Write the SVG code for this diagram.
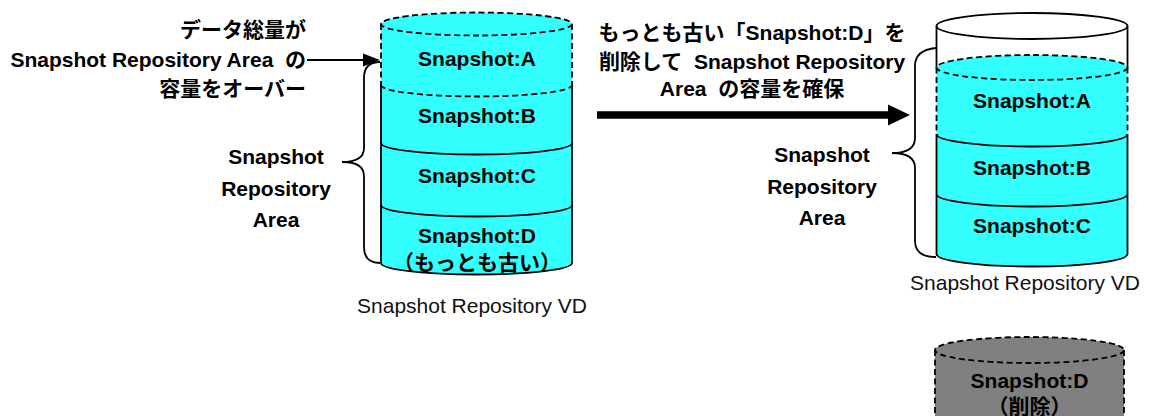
<svg xmlns="http://www.w3.org/2000/svg" width="1155" height="416" viewBox="0 0 1155 416">
  <style>
    .t { font-family: "Liberation Sans", "Noto Sans CJK JP", sans-serif; font-size: 21px; font-weight: bold; fill: #000; }
    .r { font-family: "Liberation Sans", "Noto Sans CJK JP", sans-serif; font-size: 21px; fill: #111; }
    .s { stroke: #000; stroke-width: 1.8; fill: none; }
    .d { stroke: #000; stroke-width: 1.8; fill: none; stroke-dasharray: 6 3.5; }
    .cy { fill: #33FFFF; }
    .gr { fill: #808080; }
  </style>
  <rect x="0" y="0" width="1155" height="416" fill="#fff"/>

  <!-- Left text block -->
  <g id="overflow-label">
    <text class="t" x="306" y="37" text-anchor="end">データ総量が</text>
    <text class="t" x="306" y="67" text-anchor="end" xml:space="preserve">Snapshot Repository Area  の</text>
    <text class="t" x="306" y="96" text-anchor="end">容量をオーバー</text>
  </g>

  <!-- Left cylinder -->
  <g id="left-vd">
    <path class="cy" d="M381,24 L381,263 A95.5,11.5 0 0 0 572,263 L572,24 Z"/>
    <ellipse class="cy" cx="476.5" cy="24" rx="95.5" ry="11.5"/>
    <ellipse class="d" cx="476.5" cy="24" rx="95.5" ry="11.5"/>
    <path class="d" d="M381,24 L381,85 M572,24 L572,85"/>
    <path class="d" d="M381,85 A95.5,11.5 0 0 0 572,85"/>
    <path class="s" d="M381,85 L381,263 M572,85 L572,263"/>
    <path class="s" d="M381,143 A95.5,11.5 0 0 0 572,143"/>
    <path class="s" d="M381,205 A95.5,11.5 0 0 0 572,205"/>
    <path class="s" d="M381,263 A95.5,11.5 0 0 0 572,263"/>
    <text class="t" x="477" y="65.5" text-anchor="middle">Snapshot:A</text>
    <text class="t" x="477" y="122.5" text-anchor="middle">Snapshot:B</text>
    <text class="t" x="477" y="182.5" text-anchor="middle">Snapshot:C</text>
    <text class="t" x="477" y="243" text-anchor="middle">Snapshot:D</text>
    <text class="t" x="477" y="269.5" text-anchor="middle">（もっとも古い）</text>
    <text class="r" x="472" y="313" text-anchor="middle">Snapshot Repository VD</text>
  </g>

  <g id="left-area-label">
    <text class="t" x="276" y="164" text-anchor="middle">Snapshot</text>
    <text class="t" x="276" y="196" text-anchor="middle">Repository</text>
    <text class="t" x="276" y="227" text-anchor="middle">Area</text>
  </g>

  <!-- Top-right text -->
  <g id="delete-label">
    <text class="t" x="752" y="40" text-anchor="middle">もっとも古い「Snapshot:D」を</text>
    <text class="t" x="752" y="69" text-anchor="middle" xml:space="preserve">削除して  Snapshot Repository</text>
    <text class="t" x="752" y="96" text-anchor="middle" xml:space="preserve">Area  の容量を確保</text>
  </g>

  <!-- Right cylinder -->
  <g id="right-vd">
    <ellipse cx="1032" cy="26" rx="95.5" ry="13" fill="#fff" class="s"/>
    <path class="s" d="M936.5,26 L936.5,67.5 M1127.5,26 L1127.5,67.5"/>
    <path class="cy" d="M936.5,67.5 L936.5,254 A95.5,12.5 0 0 0 1127.5,254 L1127.5,67.5 Z"/>
    <ellipse class="cy" cx="1032" cy="67.5" rx="95.5" ry="12.5"/>
    <ellipse class="d" cx="1032" cy="67.5" rx="95.5" ry="12.5"/>
    <path class="d" d="M936.5,67.5 L936.5,134 M1127.5,67.5 L1127.5,134"/>
    <path class="s" d="M936.5,134 A95.5,12.5 0 0 0 1127.5,134"/>
    <path class="s" d="M936.5,134 L936.5,254 M1127.5,134 L1127.5,254"/>
    <path class="s" d="M936.5,194 A95.5,12.5 0 0 0 1127.5,194"/>
    <path class="s" d="M936.5,254 A95.5,12.5 0 0 0 1127.5,254"/>
    <text class="t" x="1032" y="107.5" text-anchor="middle">Snapshot:A</text>
    <text class="t" x="1032" y="174.5" text-anchor="middle">Snapshot:B</text>
    <text class="t" x="1032" y="232.5" text-anchor="middle">Snapshot:C</text>
    <text class="r" x="1025" y="290" text-anchor="middle">Snapshot Repository VD</text>
  </g>

  <g id="right-area-label">
    <text class="t" x="822" y="162" text-anchor="middle">Snapshot</text>
    <text class="t" x="822" y="194" text-anchor="middle">Repository</text>
    <text class="t" x="822" y="225" text-anchor="middle">Area</text>
  </g>

  <!-- Deleted snapshot -->
  <g id="deleted-d">
    <rect class="gr" x="935" y="350" width="189" height="70"/>
    <path class="d" d="M935,350 L935,420 M1124,350 L1124,420"/>
    <ellipse class="gr" cx="1029.5" cy="350" rx="94.5" ry="13"/>
    <ellipse class="d" cx="1029.5" cy="350" rx="94.5" ry="13"/>
    <text class="t" x="1029.5" y="387.5" text-anchor="middle">Snapshot:D</text>
    <text class="t" x="1029.5" y="414" text-anchor="middle">（削除）</text>
  </g>

  <!-- Connectors -->
  <g id="connectors">
    <path class="s" d="M380,62 Q364,62 364,78 L364,148 Q364,162 342,162 Q364,162 364,176 L364,247 Q364,263 380,263"/>
    <path class="s" d="M936,48 Q915,50 915,66 L915,138 Q915,153 892,153 Q915,153 915,168 L915,241 Q915,257 936,257"/>
    <line x1="307" y1="60" x2="366" y2="60" stroke="#000" stroke-width="2"/>
    <polygon points="380,60 363,53.5 363,66.5" fill="#000"/>
    <line x1="597" y1="115" x2="890" y2="115" stroke="#000" stroke-width="7.5"/>
    <polygon points="910,115 888,104.5 888,125.5" fill="#000"/>
  </g>
</svg>
